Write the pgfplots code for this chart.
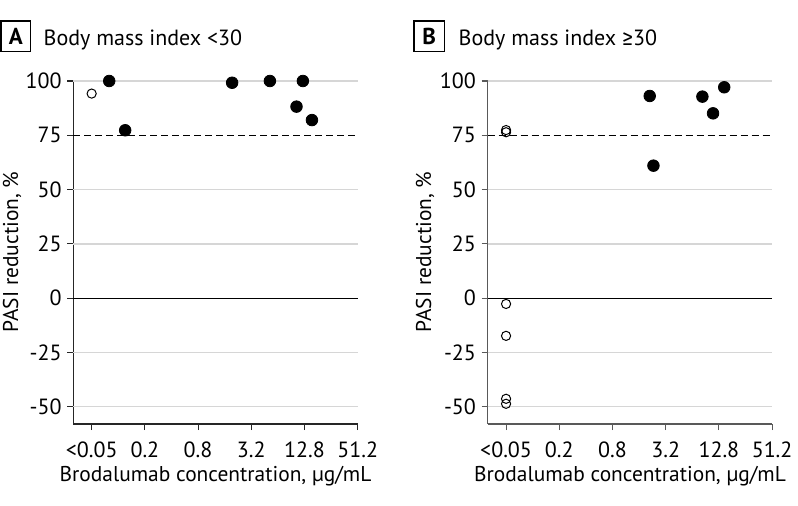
\documentclass[border=0pt]{standalone}
\usepackage{fontspec}
\setmainfont{PT Sans}
\newfontfamily\symfont{Fira Sans}
\usepackage{pgfplots}
\pgfplotsset{compat=1.18}
\definecolor{gridgray}{HTML}{D6D6D6}
\pgfplotsset{panel/.style={
  scale only axis, width=142.2pt, height=171.5pt,
  xmin=-0.345, xmax=5, ymin=-58, ymax=100,
  clip=false,
  axis lines=left,
  axis line style={-, line width=0.55pt},
  xtick={0,1,2,3,4,5},
  xticklabels={{<0.05},{0.2},{0.8},{3.2},{12.8},{51.2}},
  ytick={-50,-25,0,25,50,75,100},
  yticklabels={{-50},{-25},{0},{25},{50},{75},{100}},
  tick align=outside, major tick length=3.1pt,
  tick style={line width=0.55pt},
  ticklabel style={font=\fontsize{11}{13}\selectfont},
  yticklabel style={inner sep=2.6pt},
  xticklabel style={yshift=-2.2pt},
  anchor=south west,
}}
\pgfplotsset{
  gl/.style={gridgray, line width=0.7pt, forget plot},
  fm/.style={only marks, mark=*, mark size=2.9pt, mark options={fill=black, draw=black}},
  om/.style={only marks, mark=o, mark size=2.3pt, mark options={draw=black, line width=0.5pt, fill=white}},
}
\begin{document}
\begin{tikzpicture}
% Panel A
\begin{axis}[panel, at={(36.65pt,-212pt)}, axis line style={black!85}, tick style={black!85}]
\addplot[gl] coordinates {(-0.345,100) (5,100)};
\addplot[gl] coordinates {(-0.345,50) (5,50)};
\addplot[gl] coordinates {(-0.345,25) (5,25)};
\addplot[gl] coordinates {(-0.345,-25) (5,-25)};
\addplot[gl] coordinates {(-0.345,-50) (5,-50)};
\addplot[black, line width=0.5pt] coordinates {(-0.345,0) (5,0)};
\addplot[black, line width=0.65pt, dash pattern=on 3.5pt off 2pt] coordinates {(-0.345,75) (5,75)};
\addplot[om] coordinates {(0,94.2)};
\addplot[fm] coordinates {(0.33,100) (0.63,77.3) (2.64,99.2) (3.35,100) (3.97,100) (3.85,88.2) (4.14,82)};
\end{axis}
% Panel B
\begin{axis}[panel, at={(243.85pt,-212pt)}, axis line style={black!65}, tick style={black!65}]
\addplot[gl] coordinates {(-0.345,100) (5,100)};
\addplot[gl] coordinates {(-0.345,50) (5,50)};
\addplot[gl] coordinates {(-0.345,25) (5,25)};
\addplot[gl] coordinates {(-0.345,-25) (5,-25)};
\addplot[gl] coordinates {(-0.345,-50) (5,-50)};
\addplot[black, line width=0.5pt] coordinates {(-0.345,0) (5,0)};
\addplot[black, line width=0.65pt, dash pattern=on 3.5pt off 2pt] coordinates {(-0.345,75) (5,75)};
\addplot[om] coordinates {(0,77.4) (0,76.4) (0,-2.7) (0,-17.4) (0,-46.4) (0,-48.7)};
\addplot[fm] coordinates {(2.70,93.1) (2.77,61) (3.69,92.8) (3.89,85.1) (4.10,97.1)};
\end{axis}
\begin{scope}[x=0.5pt, y=-0.5pt]
\draw[line width=0.6pt] (1,21) rectangle (30.7,51.7);
\node[font=\bfseries\fontsize{11.5}{13}\selectfont] at (15.85,36.35) {A};
\node[anchor=base west, inner sep=0pt, font=\fontsize{11}{13}\selectfont] at (43.3,45.7) {Body mass index <30};
\draw[line width=0.6pt] (414,21) rectangle (444.3,51.7);
\node[font=\bfseries\fontsize{11.5}{13}\selectfont] at (429.15,36.35) {B};
\node[anchor=base west, inner sep=0pt, font=\fontsize{11}{13}\selectfont] at (458.3,45.7) {Body mass index {\symfont ≥}30};
\node[rotate=90, font=\fontsize{10.7}{12}\selectfont] at (12,252) {PASI reduction, \%};
\node[rotate=90, font=\fontsize{10.7}{12}\selectfont] at (425,252) {PASI reduction, \%};
\node[font=\fontsize{10.7}{12}\selectfont] at (215.5,476) {Brodalumab concentration, µg/mL};
\node[font=\fontsize{10.7}{12}\selectfont] at (630,476) {Brodalumab concentration, µg/mL};
\pgfresetboundingbox
\useasboundingbox (0,0) rectangle (798,506);
\end{scope}
\end{tikzpicture}
\end{document}
